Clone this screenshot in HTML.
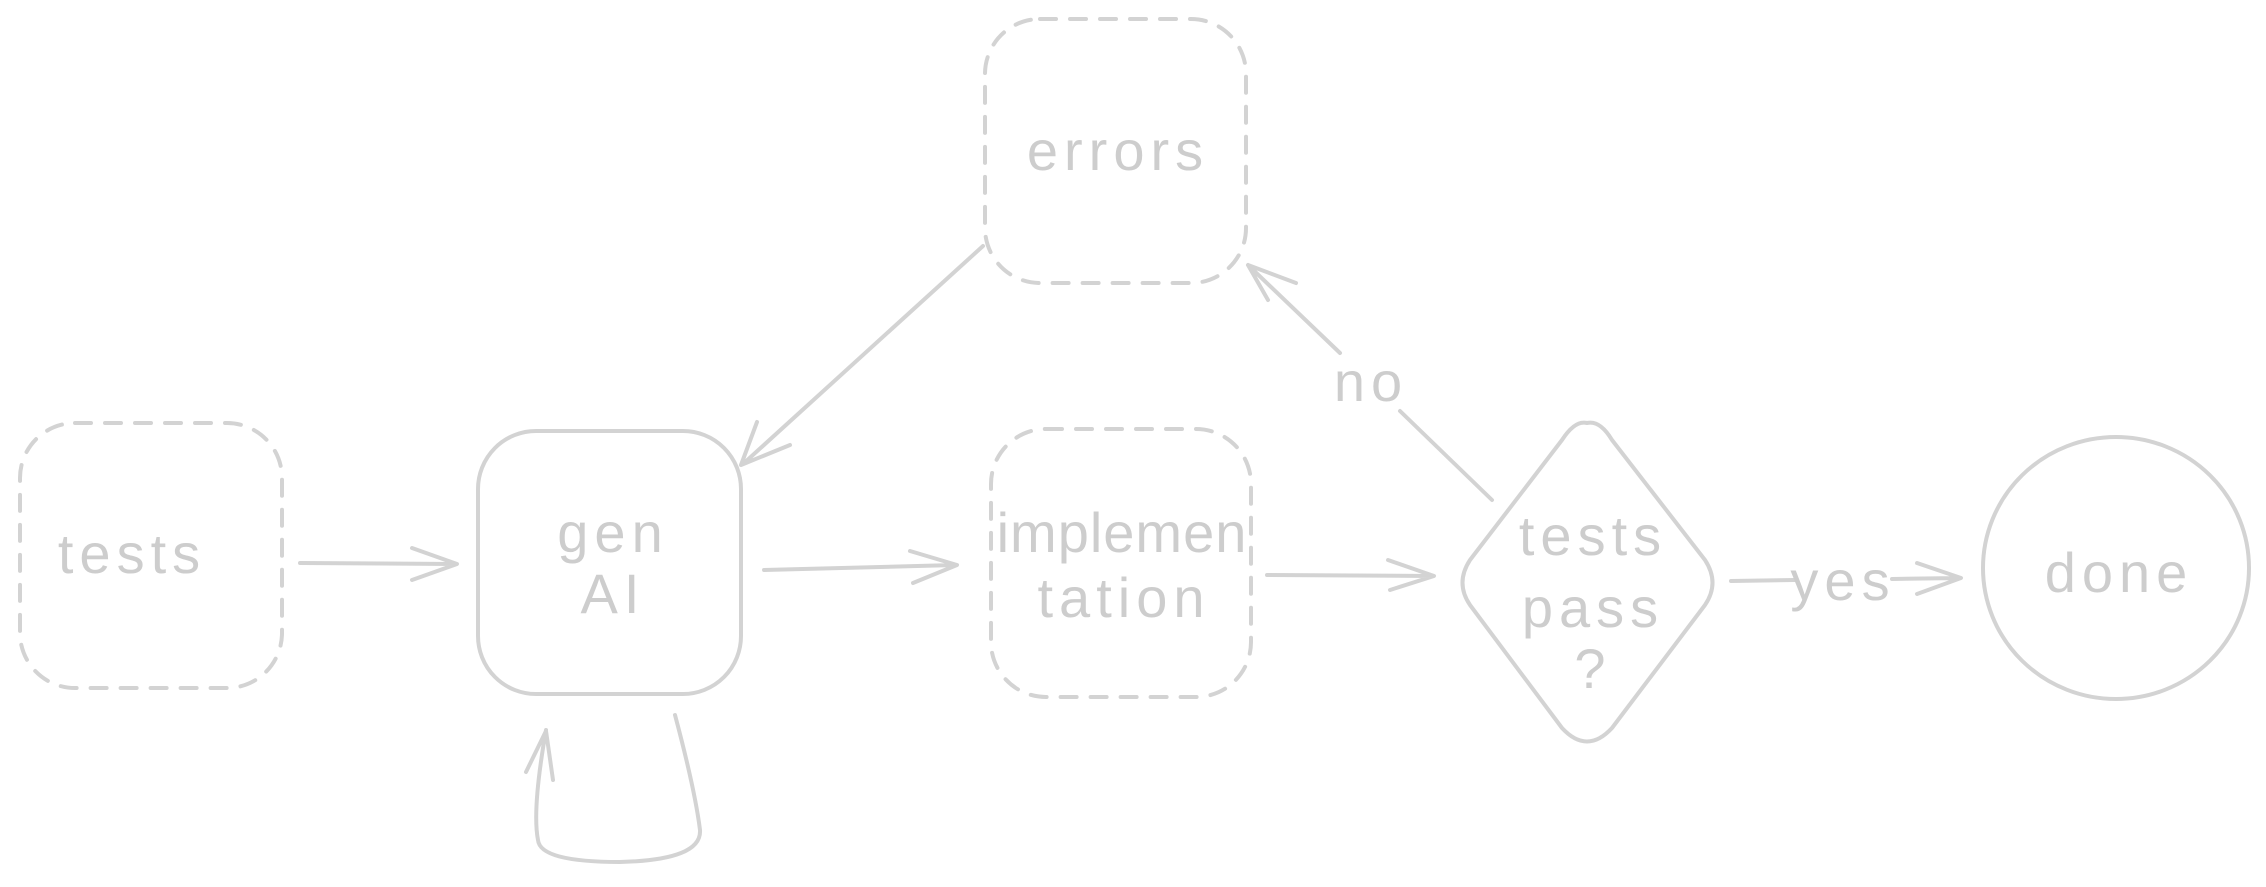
<!DOCTYPE html>
<html><head><meta charset="utf-8"><style>
html,body{margin:0;padding:0;background:#fff;}
svg{display:block}
text{font-family:"Comic Sans MS","Liberation Sans",sans-serif;fill:#cdcdcd;font-size:56px;text-anchor:middle;letter-spacing:6px;}
</style></head><body>
<svg width="2266" height="887" viewBox="0 0 2266 887" xmlns="http://www.w3.org/2000/svg">
<g fill="none" stroke="#d3d3d3" stroke-width="4" stroke-linecap="round" stroke-linejoin="round">
  <rect x="20" y="423" width="262" height="265" rx="55" stroke-dasharray="16 14"/>
  <rect x="478" y="431" width="263" height="263" rx="58"/>
  <rect x="985" y="19" width="261" height="264" rx="55" stroke-dasharray="16 14"/>
  <rect x="991" y="429" width="260" height="268" rx="55" stroke-dasharray="16 14"/>
  <path d="M1587 423 Q1600 420 1612 440 L1705 560 Q1720 583 1705 605 L1612 728 Q1587 755 1562 728 L1470 605 Q1455 583 1470 560 L1562 440 Q1575 420 1587 423 Z"/>
  <ellipse cx="2116" cy="568" rx="133" ry="131"/>
  <path d="M300 563 L455 564 M412 548 L457 564 L412 580"/>
  <path d="M764 570 L955 565 M910 551 L957 565 L913 583"/>
  <path d="M1267 575 L1433 576 M1388 560 L1434 576 L1390 590"/>
  <path d="M1731 581 L1795 580 M1892 579 L1960 578 M1917 563 L1961 578 L1917 594"/>
  <path d="M983 246 L743 464 M757 422 L741 465 L790 445"/>
  <path d="M1492 500 L1400 411 M1340 353 L1248 265 M1268 300 L1248 265 L1296 283"/>
  <path d="M675 715 Q695 790 700 830 Q702 860 620 862 Q540 862 538 840 Q532 810 546 730 M526 772 L546 731 L553 780"/>
</g>
<text x="132" y="573">tests</text>
<text x="613" y="552">gen</text>
<text x="613" y="613">AI</text>
<text x="1118" y="170">errors</text>
<text x="1122" y="552" style="letter-spacing:1px">implemen</text>
<text x="1124" y="617">tation</text>
<text x="1593" y="555">tests</text>
<text x="1593" y="627">pass</text>
<text x="1593" y="688">?</text>
<text x="1843" y="600">yes</text>
<text x="1371" y="401">no</text>
<text x="2119" y="592">done</text>
</svg>
</body></html>
